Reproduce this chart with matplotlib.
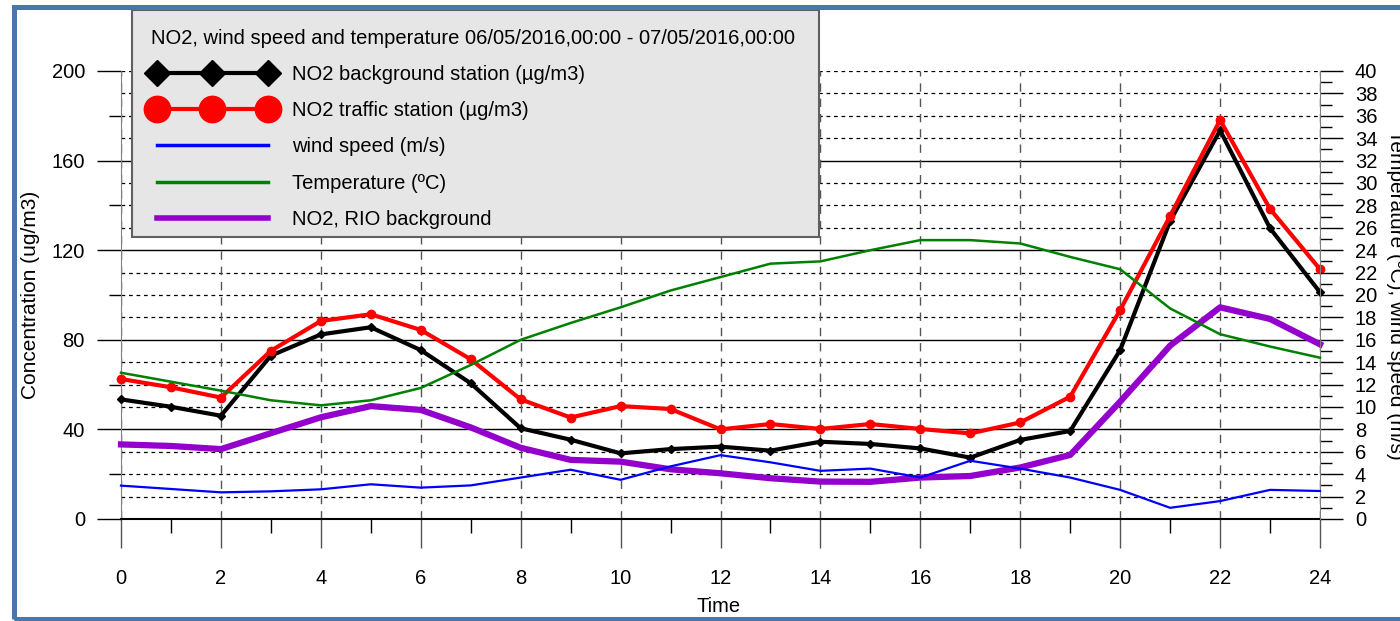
import numpy as np
import matplotlib
matplotlib.use("Agg")
import matplotlib.pyplot as plt
from matplotlib.lines import Line2D
from matplotlib.patches import Rectangle
from matplotlib.ticker import MultipleLocator

plt.rcParams["font.family"] = ["Liberation Sans", "DejaVu Sans"]

# Hourly values, 06/05/2016 00:00 - 07/05/2016 00:00
hours = list(range(25))
no2_background = [53.4, 50.1, 46.1, 72.9, 82.4, 85.6, 75.4, 60.6, 40.5, 35.4,
                  29.3, 31.2, 32.3, 30.5, 34.5, 33.5, 31.5, 27.4, 35.3, 39.3,
                  75.4, 133.0, 173.5, 129.8, 101.2]
no2_traffic = [62.5, 58.8, 54.2, 75.1, 88.4, 91.4, 84.4, 71.3, 53.4, 45.3,
               50.4, 49.1, 40.0, 42.4, 40.2, 42.4, 40.2, 38.2, 43.1, 54.6,
               93.3, 135.3, 178.1, 138.4, 111.5]
no2_rio = [33.3, 32.6, 31.2, 38.3, 45.4, 50.4, 48.7, 40.9, 31.8, 26.4,
           25.6, 22.2, 20.4, 18.2, 16.7, 16.6, 18.5, 19.2, 23.0, 28.6,
           52.4, 77.4, 94.5, 89.3, 78.0]
wind_speed = [2.98, 2.68, 2.38, 2.47, 2.65, 3.1, 2.8, 3.0, 3.7, 4.4,
              3.5, 4.7, 5.7, 5.06, 4.3, 4.5, 3.7, 5.2, 4.5, 3.7,
              2.6, 1.0, 1.6, 2.6, 2.5]
temperature = [13.06, 12.26, 11.46, 10.6, 10.15, 10.6, 11.7, 13.75, 16.0, 17.5,
               18.9, 20.4, 21.6, 22.8, 23.0, 24.0, 24.9, 24.9, 24.6, 23.4,
               22.3, 18.8, 16.5, 15.4, 14.4]

title = "NO2, wind speed and temperature 06/05/2016,00:00 - 07/05/2016,00:00"
series_labels = ["NO2 background station (\u00b5g/m3)",
                 "NO2 traffic station (\u00b5g/m3)",
                 "wind speed (m/s)",
                 "Temperature (\u00baC)",
                 "NO2, RIO background"]

W, H = 1400, 621
fig = plt.figure(figsize=(W / 100, H / 100), dpi=100)
fig.patch.set_facecolor("white")

x0, x1, ytop, ybot = 121, 1320, 71, 519
ax = fig.add_axes([x0 / W, 1 - ybot / H, (x1 - x0) / W, (ybot - ytop) / H])
ax.set_xlim(0, 24)
ax.set_ylim(0, 200)
ax.patch.set_visible(False)

ax2 = ax.twinx()
ax2.set_ylim(0, 40)

# horizontal grid: solid every 40, dashed every 10
for v in np.arange(10, 201, 10):
    if v % 40 == 0 and v < 200:
        ax.axhline(v, color="black", lw=1.0, zorder=0.5)
    else:
        ax.axhline(v, color="black", lw=0.9, ls=(0, (3, 3)), zorder=0.5)

# vertical grid every 2 hours
ax.xaxis.set_major_locator(MultipleLocator(2))
ax.xaxis.set_minor_locator(MultipleLocator(1))
ax.set_axisbelow(True)
ax.xaxis.grid(True, which="major", color="#555555", lw=1.0, ls=(0, (6, 5)))

ax.yaxis.set_major_locator(MultipleLocator(40))
ax.yaxis.set_minor_locator(MultipleLocator(20))
ax2.yaxis.set_major_locator(MultipleLocator(2))
ax2.yaxis.set_minor_locator(MultipleLocator(1))

ax.tick_params(axis="x", which="major", direction="out", length=21, width=1,
               color="#555555", pad=15, labelsize=14.5)
ax.tick_params(axis="x", which="minor", direction="out", length=10, width=1,
               color="black")
ax.tick_params(axis="y", which="major", direction="out", length=17, width=1,
               color="black", pad=9, labelsize=14.5)
ax.tick_params(axis="y", which="minor", direction="out", length=8.6, width=1,
               color="black")
ax2.tick_params(axis="y", which="major", direction="out", length=16.5, width=1,
                color="black", pad=8.6, labelsize=14.5)
ax2.tick_params(axis="y", which="minor", direction="out", length=8.5, width=1,
                color="black")

for a in (ax, ax2):
    a.spines["top"].set_visible(False)
ax.spines["right"].set_visible(False)
ax2.spines["left"].set_visible(False)
ax2.spines["bottom"].set_visible(False)
ax.spines["left"].set_color("#808080")
ax2.spines["right"].set_color("#808080")
ax.spines["bottom"].set_color("black")
ax.spines["bottom"].set_linewidth(1.5)

# series
ax.plot(hours, no2_background, color="black", lw=3, marker="D", ms=4,
        clip_on=False, zorder=3)
ax.plot(hours, no2_traffic, color="#ff0000", lw=3, marker="o", ms=6,
        clip_on=False, zorder=3)
ax2.plot(hours, wind_speed, color="#0000ff", lw=1.6, clip_on=False, zorder=3)
ax2.plot(hours, temperature, color="#008000", lw=1.8, clip_on=False, zorder=3)
ax.plot(hours, no2_rio, color="#9400cc", lw=4.5, clip_on=False, zorder=4)

# axis titles
ax.set_ylabel("Concentration (ug/m3)", fontsize=15)
ax.yaxis.label.set_va("center")
ax.yaxis.label.set_ha("center")
ax.yaxis.set_label_coords((31 - x0) / (x1 - x0), 0.5)
ax2.set_ylabel("Temperature (\u00baC), wind speed (m/s)", fontsize=15,
               rotation=-90)
ax2.yaxis.label.set_va("center")
ax2.yaxis.label.set_ha("center")
ax2.yaxis.set_label_coords((1395 - x0) / (x1 - x0), 0.5)
ax.set_xlabel("Time", fontsize=14.5)
ax.xaxis.label.set_va("center")
ax.xaxis.set_label_coords(0.4984, -(606 - ybot) / (ybot - ytop))

# legend box
fig.add_artist(Rectangle((132 / W, 1 - 237 / H), (819 - 132) / W, (237 - 10) / H,
                         transform=fig.transFigure, facecolor="#e6e6e6",
                         edgecolor="#606060", lw=1.5, zorder=4))
handles = [
    Line2D([], [], color="black", lw=3, marker="D", ms=13),
    Line2D([], [], color="#ff0000", lw=3, marker="o", ms=19),
    Line2D([], [], color="#0000ff", lw=2.5),
    Line2D([], [], color="#008000", lw=2.5),
    Line2D([], [], color="#9400cc", lw=4),
]
leg_font = {"family": ["Liberation Sans"], "size": 14.5}
leg = fig.legend(handles, series_labels, title=title, loc="upper left",
                 bbox_to_anchor=(151 / W, 1 - 28.5 / H), frameon=False,
                 prop=leg_font, title_fontproperties=leg_font, numpoints=3,
                 handlelength=6.1, handletextpad=0.88, labelspacing=0.86,
                 borderpad=0, borderaxespad=0, alignment="left")
leg.set_zorder(5)

# outer frame
fig.add_artist(Rectangle((14 / W, 1 - 619 / H), (1430 - 14) / W, (619 - 6.5) / H,
                         transform=fig.transFigure, fill=False,
                         edgecolor="#4a76a8", lw=3.6, clip_on=False, zorder=6))

fig.savefig("out.png", dpi=100)
